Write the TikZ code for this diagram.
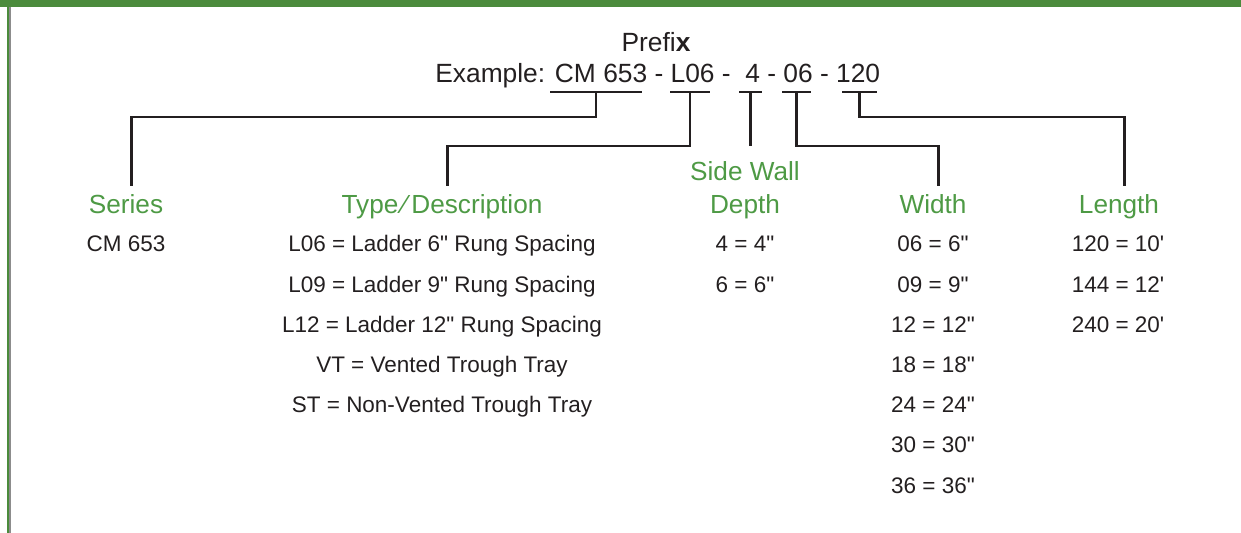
\documentclass[tikz,border=0pt]{standalone}
\usepackage{fontspec}
\setmainfont{Liberation Sans}
\usepackage{tikz}
\usetikzlibrary{calc,positioning}
\definecolor{barG}{HTML}{4B8B3C}
\definecolor{headG}{HTML}{4E9A45}
\definecolor{ink}{HTML}{231F20}
\newcommand{\ft}{\textquotesingle}
\newcommand{\inch}{\textquotedbl}

\begin{document}
\begin{tikzpicture}[x=0.02cm,y=-0.02cm,
  code/.style={inner sep=0pt,text=ink,font=\fontsize{15}{18}\selectfont},
  head/.style={inner xsep=0pt,inner ysep=5pt,text=headG,font=\fontsize{14.9}{18}\selectfont,anchor=base},
  entry/.style={inner sep=0pt,text=ink,font=\fontsize{12.8}{15}\selectfont,anchor=base},
  lead/.style={draw=ink,line width=1.4pt}]
\useasboundingbox (0,0) rectangle (1241,533);
\fill[barG] (0,0) rectangle (1241,7);
\draw[barG,line width=1.1pt] (8,7) -- (8,533);
\draw[black!45,line width=1.1pt] (10,7) -- (10,533);
\node[code,anchor=base] (prefix) at (656,52) {Prefi\textbf{x}};
\node[code,anchor=base west] (example) at (435,83) {Example: CM 653 - L06 -\ \ 4 - 06 - 120};
\node[head] (series) at (126,214) {Series};
\node[head] (type) at (442,214) {Type\,∕\,Description};
\node[head] (wall) at (745,181) {Side Wall};
\node[head] (depth) at (745,214) {Depth};
\node[head] (width) at (933,214) {Width};
\node[head] (length) at (1119,214) {Length};
\def\dy{40.2}
\node[entry] (s0) at (126,252) {CM 653};
\foreach \i/\t in {0/{L06 = Ladder 6\inch{} Rung Spacing},1/{L09 = Ladder 9\inch{} Rung Spacing},
  2/{L12 = Ladder 12\inch{} Rung Spacing},3/{VT = Vented Trough Tray},4/{ST = Non-Vented Trough Tray}}{
  \node[entry] (t\i) at (442,252+\i*\dy) {\t};
}
\foreach \i/\t in {0/4 = 4\inch,1/6 = 6\inch}{
  \node[entry] (d\i) at (745,252+\i*\dy) {\t};
}
\foreach \i/\t in {0/06 = 6\inch,1/09 = 9\inch,2/12 = 12\inch,3/18 = 18\inch,4/24 = 24\inch,5/30 = 30\inch,6/36 = 36\inch}{
  \node[entry] (w\i) at (933,252+\i*\dy) {\t};
}
\foreach \i/\t in {0/120 = 10\ft,1/144 = 12\ft,2/240 = 20\ft}{
  \node[entry] (l\i) at (1118,252+\i*\dy) {\t};
}
\foreach \n/\a/\b in {1/550/642,2/670/710,3/739/762,4/782/811,5/842/877}{
  \draw[lead] (\a,92) coordinate (u\n l) -- (\b,92) coordinate (u\n r) coordinate[midway] (u\n);
}
\draw[lead] (u1) -- ++(0,25) -| ([xshift=3pt]series.north);
\draw[lead] (u2) -- ++(0,54) -| ([xshift=3pt]type.north);
\draw[lead] (u3) -- ([yshift=4pt]u3 |- wall.north);
\draw[lead] (u4) -- ++(0,54) -| ([xshift=3pt]width.north);
\draw[lead] (u5) -- ++(0,25) -| ([xshift=3pt]length.north);
\end{tikzpicture}
\end{document}
